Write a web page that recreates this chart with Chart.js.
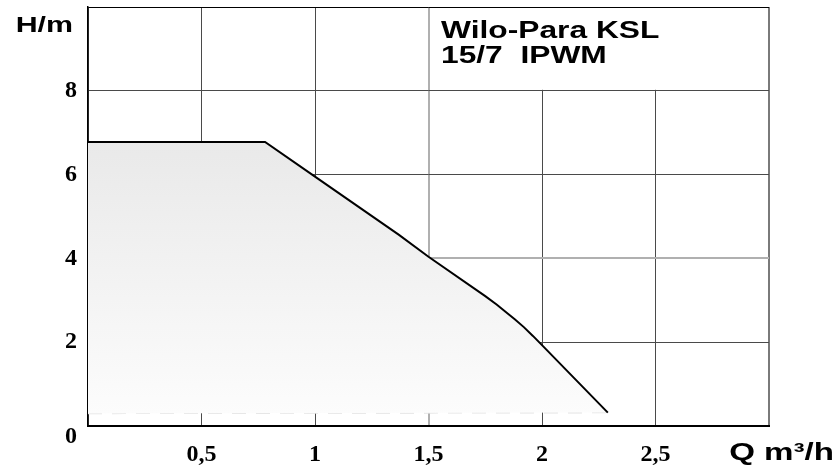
<!DOCTYPE html>
<html>
<head>
<meta charset="utf-8">
<script src="https://cdn.jsdelivr.net/npm/chart.js@4.4.1/dist/chart.umd.min.js"></script>
<style>
  body { margin: 0; background: #fff; }
  canvas { display: block; }
</style>
</head>
<body>
<canvas id="pumpChart" width="837" height="471"></canvas>
<script>
// --- data ---
const flowQ = [0, 0.78, 1.0, 1.37, 1.5, 1.75, 1.8, 1.85, 1.88, 1.92, 1.96, 2.0, 2.29];
const headH = [6.78, 6.78, 5.95, 4.56, 4.04, 3.1, 2.9, 2.68, 2.55, 2.36, 2.15, 1.93, 0.32];
const baseQ = [0, 2.29];
const baseH = [0.3, 0.32];
const xTicks = [0.5, 1, 1.5, 2, 2.5];
const yTicks = [2, 4, 6, 8];
const titleLines = ["Wilo-Para KSL", "15/7  IPWM"];

const STRETCH = 1.38; // the reference text is stretched sideways
const TICK_FONT = { family: "'Liberation Serif', 'Times New Roman', serif", size: 24, weight: "bold" };

function wideText(ctx, text, x, y, font, align) {
    ctx.save();
    ctx.font = font;
    ctx.fillStyle = "#000";
    ctx.textBaseline = "alphabetic";
    const w = ctx.measureText(text).width * STRETCH;
    const left = align === "right" ? x - w : x;
    ctx.translate(left, y);
    ctx.scale(STRETCH, 1);
    ctx.textAlign = "left";
    ctx.fillText(text, 0, 0);
    ctx.restore();
}

// white box with the model name in the upper right corner, plus axis titles
const annotations = {
    id: "annotations",
    beforeDatasetsDraw(chart) {
        const { ctx, scales: { x, y } } = chart;
        const x0 = x.getPixelForValue(1.5) + 1.5;
        const x1 = x.getPixelForValue(3) - 1;
        const y0 = y.getPixelForValue(10) + 1;
        const y1 = y.getPixelForValue(8) - 1;
        ctx.save();
        ctx.fillStyle = "#fff";
        ctx.fillRect(x0, y0, x1 - x0, y1 - y0);
        ctx.restore();
        wideText(ctx, titleLines[0], x0 + 11, y0 + 30, "bold 23px 'Liberation Sans', Arial", "left");
        wideText(ctx, titleLines[1], x0 + 11, y0 + 55, "bold 23px 'Liberation Sans', Arial", "left");
    },
    afterDraw(chart) {
        const { ctx, scales: { x, y } } = chart;
        wideText(ctx, "H/m", x.left - 15, 32, "bold 22px 'Liberation Sans', Arial", "right");
        wideText(ctx, "Q m³/h", 834, 460, "bold 24px 'Liberation Sans', Arial", "right");
        // the zero of the H axis sits a bit below the axis
        ctx.save();
        ctx.font = "bold 24px 'Liberation Serif', 'Times New Roman', serif";
        ctx.fillStyle = "#000";
        ctx.textAlign = "right";
        ctx.textBaseline = "middle";
        ctx.fillText("0", x.left - 11, y.getPixelForValue(0) + 11);
        ctx.restore();
    }
};

const ctx = document.getElementById("pumpChart").getContext("2d");

new Chart(ctx, {
    type: "line",
    data: {
        datasets: [
            {
                label: "H(Q)",
                data: flowQ.map((q, i) => ({ x: q, y: headH[i] })),
                borderColor: "#000",
                borderWidth: 2,
                pointRadius: 0,
                tension: 0,
                fill: "+1",
                backgroundColor: (c) => {
                    const area = c.chart.chartArea;
                    if (!area) return "#eee";
                    const ys = c.chart.scales.y;
                    const g = c.chart.ctx.createLinearGradient(0, ys.getPixelForValue(6.8), 0, ys.getPixelForValue(0.3));
                    g.addColorStop(0, "#e9e9e9");
                    g.addColorStop(1, "#fcfcfc");
                    return g;
                }
            },
            {
                label: "base",
                data: baseQ.map((q, i) => ({ x: q, y: baseH[i] })),
                borderColor: "#e2e2e2",
                borderWidth: 1.5,
                borderDash: [14, 10],
                pointRadius: 0,
                fill: false
            }
        ]
    },
    options: {
        responsive: false,
        animation: false,
        layout: { padding: { top: 7, right: 68, left: 0, bottom: 0 } },
        plugins: {
            legend: { display: false },
            tooltip: { enabled: false }
        },
        scales: {
            x: {
                type: "linear",
                min: 0,
                max: 3,
                afterFit: (s) => { s.height = 45; s.paddingLeft = 0; s.paddingRight = 0; },
                afterBuildTicks: (s) => { s.ticks = [0].concat(xTicks, [3]).map(v => ({ value: v })); },
                ticks: {
                    padding: 14,
                    color: "#000",
                    font: TICK_FONT,
                    callback: (v) => xTicks.includes(v) ? String(v).replace(".", ",") : ""
                },
                grid: {
                    drawTicks: false,
                    color: (c) => c.tick.value === 1.5 ? "#b0b0b0" : (c.tick.value === 3 ? "#7a7a7a" : "#4a4a4a"),
                    lineWidth: (c) => (c.tick.value === 1.5 || c.tick.value === 3) ? 2 : 1
                },
                border: { color: "#000", width: 2 }
            },
            y: {
                min: 0,
                max: 10,
                afterFit: (s) => { s.width = 88; s.paddingTop = 0; s.paddingBottom = 0; },
                afterBuildTicks: (s) => { s.ticks = [0].concat(yTicks, [10]).map(v => ({ value: v })); },
                ticks: {
                    padding: 11,
                    color: "#000",
                    font: TICK_FONT,
                    callback: (v) => yTicks.includes(v) ? String(v) : ""
                },
                grid: {
                    drawTicks: false,
                    color: (c) => c.tick.value === 4 ? "#b0b0b0" : (c.tick.value === 10 ? "#000" : "#4a4a4a"),
                    lineWidth: (c) => c.tick.value === 4 ? 2 : 1
                },
                border: { color: "#000", width: 1.5 }
            }
        }
    },
    plugins: [annotations]
});
</script>
</body>
</html>
